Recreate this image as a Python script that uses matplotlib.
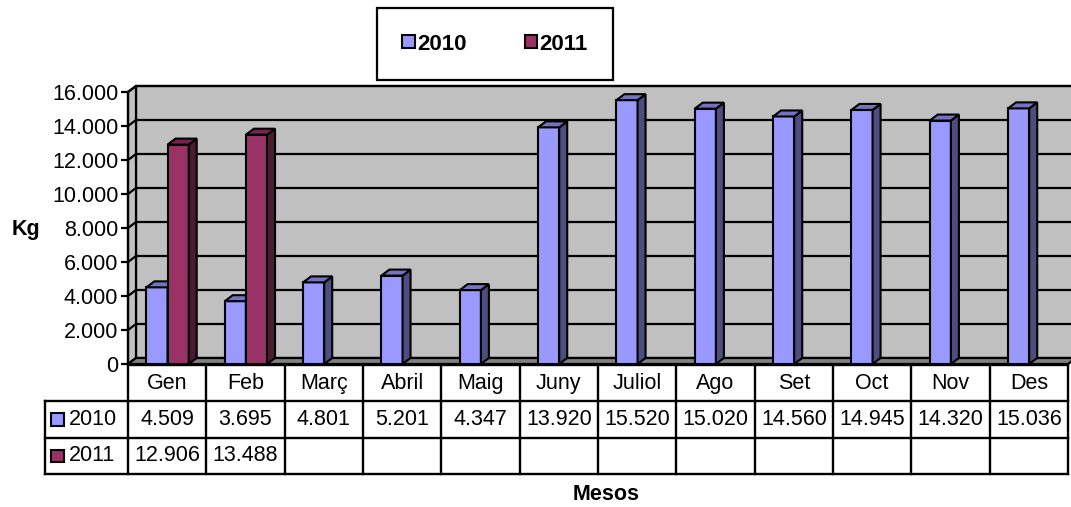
import matplotlib
matplotlib.use("Agg")
import matplotlib.pyplot as plt
from matplotlib.patches import Polygon, Rectangle, Patch
from matplotlib.ticker import FuncFormatter

plt.rcParams['font.family'] = ['Liberation Sans', 'DejaVu Sans']

months = ["Gen", "Feb", "Març", "Abril", "Maig", "Juny", "Juliol", "Ago", "Set", "Oct", "Nov", "Des"]
series_names = ["2010", "2011"]
values_2010 = [4509, 3695, 4801, 5201, 4347, 13920, 15520, 15020, 14560, 14945, 14320, 15036]
values_2011 = [12906, 13488, None, None, None, None, None, None, None, None, None, None]
yticks = [0, 2000, 4000, 6000, 8000, 10000, 12000, 14000, 16000]

front_cols = ["#9999FF", "#993366"]
side_cols = ["#4D4D80", "#4D1A33"]
top_cols = ["#7373BF", "#73264D"]
wall_col = "#C0C0C0"
floor_col = "#808080"
FS = 15.5

W, H = 1071, 507
fig = plt.figure(figsize=(W / 100, H / 100), dpi=100)

# main plot axes (front plane)
px_l, px_r, px_t, px_b = 128, 1068, 92, 364
ax = fig.add_axes([px_l / W, 1 - px_b / H, (px_r - px_l) / W, (px_b - px_t) / H])
n = len(months)
ymax = 16000
ax.set_xlim(0, n)
ax.set_ylim(0, ymax)
ux = (px_r - px_l) / n          # px per category
uy = (px_b - px_t) / ymax       # px per value
dx = 8 / ux
dy = 6 / uy

lw = 1.6
# back wall
ax.add_patch(Polygon([(dx, dy), (n + dx, dy), (n + dx, ymax + dy), (dx, ymax + dy)],
                     closed=True, facecolor=wall_col, edgecolor='black', lw=lw, clip_on=False, zorder=1))
# left wall
ax.add_patch(Polygon([(0, 0), (dx, dy), (dx, ymax + dy), (0, ymax)],
                     closed=True, facecolor=wall_col, edgecolor='black', lw=lw, clip_on=False, zorder=1))
# floor
ax.add_patch(Polygon([(0, 0), (n, 0), (n + dx, dy), (dx, dy)],
                     closed=True, facecolor=floor_col, edgecolor='black', lw=lw, clip_on=False, zorder=1))
# gridlines
for v in yticks[1:]:
    ax.plot([0, dx, n + dx], [v, v + dy, v + dy], color='black', lw=lw, clip_on=False, zorder=2)

# bars
bw = 0.27
offs = [0.235, 0.505]
blw = 1.5
for i in range(n):
    for s, vals in enumerate([values_2010, values_2011]):
        v = vals[i]
        if v is None:
            continue
        x0 = i + offs[s]
        z = 3 + i * 2 + s
        ax.bar(x0, v, width=bw, align='edge', color=front_cols[s], edgecolor='black', lw=blw, zorder=z)
        ax.add_patch(Polygon([(x0 + bw, 0), (x0 + bw + dx, dy), (x0 + bw + dx, v + dy), (x0 + bw, v)],
                             closed=True, facecolor=side_cols[s], edgecolor='black', lw=blw, zorder=z, clip_on=False))
        ax.add_patch(Polygon([(x0, v), (x0 + bw, v), (x0 + bw + dx, v + dy), (x0 + dx, v + dy)],
                             closed=True, facecolor=top_cols[s], edgecolor='black', lw=blw, zorder=z, clip_on=False))

for sp in ['top', 'right', 'bottom']:
    ax.spines[sp].set_visible(False)
ax.spines['left'].set_linewidth(1.6)
ax.spines['left'].set_zorder(50)
ax.set_xticks([])
ax.set_yticks(yticks)
ax.yaxis.set_major_formatter(FuncFormatter(lambda v, p: f"{int(v):,}".replace(',', '.')))
ax.tick_params(axis='y', direction='out', length=5, width=1.6, labelsize=FS, pad=2)

# data table
tb_l, tb_t, tb_b = 45, 365, 474
x_left = -(px_l - tb_l) / ux
tax = fig.add_axes([tb_l / W, 1 - tb_b / H, (px_r - tb_l) / W, (tb_b - tb_t) / H])
tax.set_xlim(x_left, n)
tax.set_ylim(3, 0)
tax.axis('off')
tlw = 1.7
for i in range(n + 1):
    tax.plot([i, i], [0, 3], color='black', lw=tlw, clip_on=False)
tax.plot([x_left, x_left], [1, 3], color='black', lw=tlw, clip_on=False)
tax.plot([0, n], [0, 0], color='black', lw=tlw, clip_on=False)
for r in [1, 2, 3]:
    tax.plot([x_left, n], [r, r], color='black', lw=tlw, clip_on=False)

fmt = lambda v: "" if v is None else f"{v:,}".replace(',', '.')
for i, m in enumerate(months):
    tax.text(i + 0.5, 0.5, m, ha='center', va='center', fontsize=FS)
    tax.text(i + 0.5, 1.5, fmt(values_2010[i]), ha='center', va='center', fontsize=FS)
    tax.text(i + 0.5, 2.5, fmt(values_2011[i]), ha='center', va='center', fontsize=FS)
rowh = (tb_b - tb_t) / 3
sq_w = 12.5 / ux
sq_h = 12.5 / rowh
for s, name in enumerate(series_names):
    cy = 1.5 + s
    tax.add_patch(Rectangle((x_left + 6 / ux, cy - sq_h / 2), sq_w, sq_h,
                            facecolor=front_cols[s], edgecolor='black', lw=1.5, clip_on=False))
    tax.text(x_left + 24 / ux, cy, name, ha='left', va='center', fontsize=FS)

# legend
handles = [Patch(facecolor=front_cols[s], edgecolor='black', lw=1.5, label=series_names[s]) for s in range(2)]
leg = fig.legend(handles=handles, ncol=2, loc='center', bbox_to_anchor=(495 / W, 1 - 44 / H),
                 frameon=True, fancybox=False, edgecolor='black', framealpha=1,
                 prop={'weight': 'bold', 'size': 16}, handlelength=0.56, handleheight=0.56,
                 handletextpad=0.12, columnspacing=2.6, borderpad=1.15, borderaxespad=0)
leg.get_frame().set_linewidth(1.6)

fig.text(25.5 / W, 1 - 229 / H, "Kg", ha='center', va='center', fontsize=FS, fontweight='bold')
fig.text(606 / W, 1 - 494 / H, "Mesos", ha='center', va='center', fontsize=FS, fontweight='bold')

fig.savefig("out.png", dpi=100)
